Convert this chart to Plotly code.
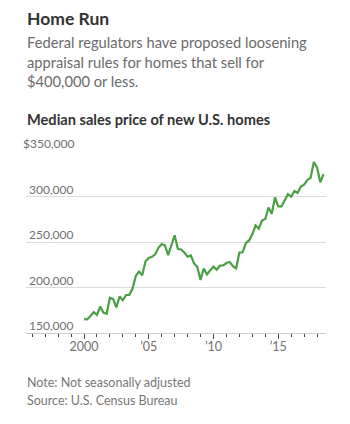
import plotly.graph_objects as go

# Quarterly median sales price of new U.S. homes (NSA), 2000 Q1 – 2018 Q3
quarters_start_year = 2000
prices = [
    165300, 165100, 168800, 172900,
    169800, 179000, 172500, 171100,
    188700, 187200, 178100, 190100,
    186000, 191800, 191900, 198800,
    212700, 217600, 213500, 228800,
    232500, 233700, 236400, 243600,
    247700, 246300, 235600, 245400,
    257400, 242200, 241800, 238400,
    233900, 235300, 226500, 222500,
    208400, 220900, 214300, 219000,
    222900, 219500, 224100, 224300,
    226900, 228100, 223500, 221100,
    238400, 238700, 248800, 251700,
    258400, 268100, 264800, 273600,
    275200, 288000, 281000, 298900,
    289200, 289100, 295800, 302500,
    299800, 306000, 303800, 310900,
    313100, 318200, 320500, 337900,
    331800, 315600, 324500,
]
dates = [quarters_start_year + i / 4 for i in range(len(prices))]

y_tickvals = [150000, 200000, 250000, 300000, 350000]
y_ticktext = ["150,000", "200,000", "250,000", "300,000", "$350,000"]
x_tickvals = [2000, 2005, 2010, 2015]
x_ticktext = ["2000", "\u201905", "\u201910", "\u201915"]

W, H = 350, 424
L, R, T, B = 26, 24, 151, 91
PH = H - T - B

def py(pix):
    return (H - B - pix) / PH

FONT = "Lato"

fig = go.Figure()
fig.add_trace(go.Scatter(
    x=dates, y=prices, mode="lines",
    line=dict(color="#4a9e44", width=2.2),
    hoverinfo="skip", showlegend=False,
))

annotations = []
for v, t in zip(y_tickvals, y_ticktext):
    annotations.append(dict(
        x=(76 - L) / (W - L - R), xref="paper", y=v, yref="y",
        text=t, showarrow=False, xanchor="right", yanchor="bottom",
        yshift=-2, font=dict(family=FONT, size=12, color="#707070"),
    ))

def txt(text, y, size, color, bold=False):
    annotations.append(dict(
        x=0, xref="paper", y=py(y), yref="paper", text=(f"<b>{text}</b>" if bold else text),
        showarrow=False, xanchor="left", yanchor="middle",
        font=dict(family=FONT, size=size, color=color), xshift=-1,
    ))

txt("Home Run", 18, 17.5, "#333333", bold=True)
txt("Federal regulators have proposed loosening", 42, 14.7, "#6b6b6b")
txt("appraisal rules for homes that sell for", 61.5, 14.7, "#6b6b6b")
txt("$400,000 or less.", 81, 14.7, "#6b6b6b")
txt("Median sales price of new U.S. homes", 119, 14.6, "#333333", bold=True)
txt("Note: Not seasonally adjusted", 382, 12.5, "#777777")
txt("Source: U.S. Census Bureau", 400, 12.5, "#777777")

fig.update_layout(
    width=W, height=H,
    margin=dict(l=L, r=R, t=T, b=B),
    paper_bgcolor="white", plot_bgcolor="white",
    annotations=annotations,
    xaxis=dict(
        range=[1995.52, 2018.69],
        tickmode="array", tickvals=x_tickvals, ticktext=x_ticktext,
        ticks="outside", ticklen=5, tickwidth=1, tickcolor="#444444",
        ticklabelstandoff=-3,
        showgrid=False, zeroline=False,
        showline=True, linecolor="#cccccc", linewidth=1,
        tickfont=dict(family=FONT, size=12.5, color="#707070"),
        minor=dict(dtick=1, tick0=2000, ticks="outside", ticklen=3, tickwidth=1,
                   tickcolor="#444444", showgrid=False),
        fixedrange=True,
    ),
    yaxis=dict(
        range=[150000, 350000],
        tickmode="array", tickvals=y_tickvals,
        showticklabels=False, ticks="",
        showgrid=True, gridcolor="#dddddd", gridwidth=1,
        zeroline=False, showline=False, fixedrange=True,
    ),
)

fig.write_html("out.html")
